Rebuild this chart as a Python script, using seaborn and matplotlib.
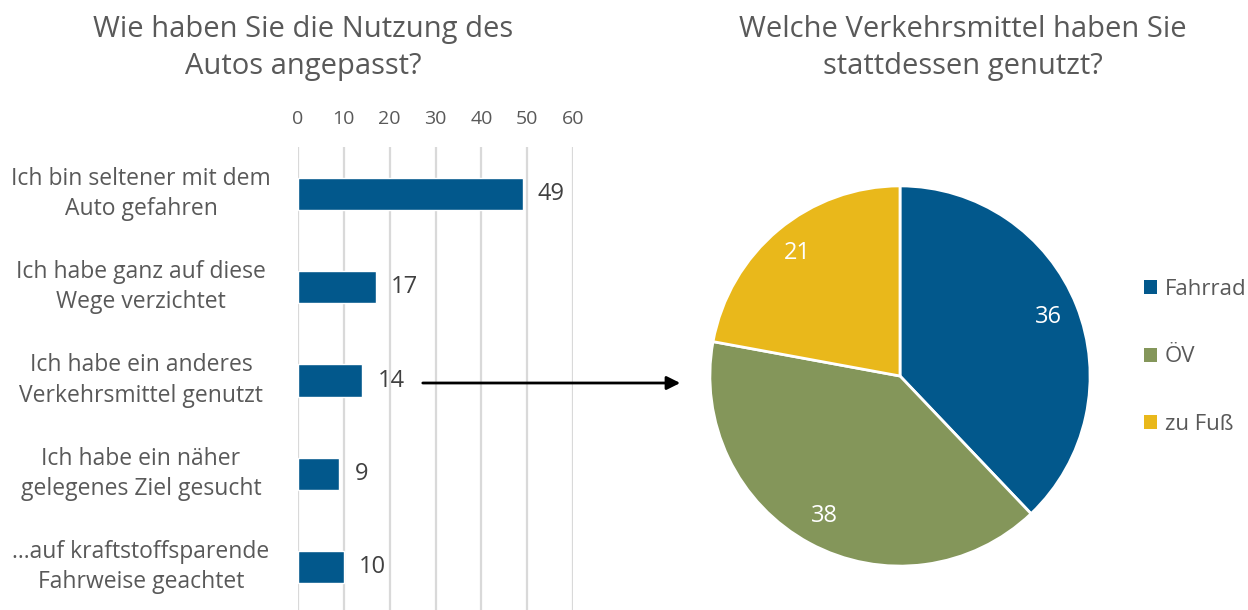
import matplotlib
matplotlib.use("Agg")
import matplotlib.pyplot as plt
import matplotlib.transforms as mtransforms
from matplotlib.patches import Patch
import seaborn as sns
import pandas as pd

# Data
bar_labels = [
    "Ich bin seltener mit dem\nAuto gefahren",
    "Ich habe ganz auf diese\nWege verzichtet",
    "Ich habe ein anderes\nVerkehrsmittel genutzt",
    "Ich habe ein näher\ngelegenes Ziel gesucht",
    "...auf kraftstoffsparende\nFahrweise geachtet",
]
bar_values = [49, 17, 14, 9, 10]
x_ticks = [0, 10, 20, 30, 40, 50, 60]

pie_labels = ["Fahrrad", "ÖV", "zu Fuß"]
pie_values = [36, 38, 21]

title_left = "Wie haben Sie die Nutzung des\nAutos angepasst?"
title_right = "Welche Verkehrsmittel haben Sie\nstattdessen genutzt?"

# Colours
blue = "#02588C"
green = "#84965A"
yellow = "#E9B81B"
text_grey = "#595959"
grid_grey = "#D9D9D9"

sns.set_theme(style="white")
plt.rcParams["font.family"] = ["Open Sans", "DejaVu Sans"]

fig = plt.figure(figsize=(12.48, 6.10), dpi=100, facecolor="white")

# Left: horizontal bar chart
ax1 = fig.add_axes([298 / 1248, 0.0, 275 / 1248, 1 - 147.4 / 610])
df = pd.DataFrame({"label": bar_labels, "value": bar_values})
sns.barplot(data=df, x="value", y="label", orient="h", color=blue,
            width=0.345, ax=ax1, saturation=1)
ax1.set_xlim(0, 60)
ax1.set_ylim(4.46, -0.5)
ax1.set_xticks(x_ticks)
ax1.xaxis.tick_top()
ax1.tick_params(axis="x", length=0, pad=14, labelsize=14, labelcolor=text_grey)
ax1.set_yticks([])
ax1.set_xlabel("")
ax1.set_ylabel("")
for s in ax1.spines.values():
    s.set_visible(False)
ax1.grid(axis="x", color=grid_grey, linewidth=1.6)
ax1.set_axisbelow(True)
ax1.bar_label(ax1.containers[0], padding=11, fontsize=17, color="#404040")

trans = mtransforms.blended_transform_factory(fig.transFigure, ax1.transData)
for i, lab in enumerate(bar_labels):
    ax1.text(141 / 1248, i, lab, transform=trans, ha="center", va="center",
             fontsize=16.5, color=text_grey, linespacing=1.35)

fig.text(303 / 1248, 1 - 48 / 610, title_left, ha="center", va="center",
         fontsize=21, color=text_grey, linespacing=1.35)

# Right: pie chart
ax2 = fig.add_axes([708 / 1248, (610 - 568) / 610, 384 / 1248, 384 / 610])
wedges, texts, autotexts = ax2.pie(
    pie_values, colors=[blue, green, yellow], startangle=90, counterclock=False,
    autopct=lambda p: f"{p * sum(pie_values) / 100:.0f}", pctdistance=0.84,
    wedgeprops=dict(edgecolor="white", linewidth=2),
    textprops=dict(color="white", fontsize=17))
ax2.set_xlim(-1.01, 1.01)
ax2.set_ylim(-1.01, 1.01)
ax2.set_aspect("equal")

fig.text(963 / 1248, 1 - 48 / 610, title_right, ha="center", va="center",
         fontsize=21, color=text_grey, linespacing=1.35)

handles = [Patch(facecolor=c, edgecolor="none") for c in [blue, green, yellow]]
fig.legend(handles, pie_labels, loc="center left",
           bbox_to_anchor=(1124 / 1248, 1 - 357 / 610), frameon=False,
           fontsize=16, labelcolor=text_grey, handlelength=0.6,
           handleheight=0.6, handletextpad=0.35, labelspacing=2.1)

# Arrow from the bar to the pie
fig.add_artist(matplotlib.patches.FancyArrowPatch(
    (420 / 1248, 1 - 383 / 610), (683 / 1248, 1 - 383 / 610),
    transform=fig.transFigure, arrowstyle="-|>", mutation_scale=20,
    color="black", linewidth=2))

fig.savefig("out.png", dpi=100, facecolor="white")
